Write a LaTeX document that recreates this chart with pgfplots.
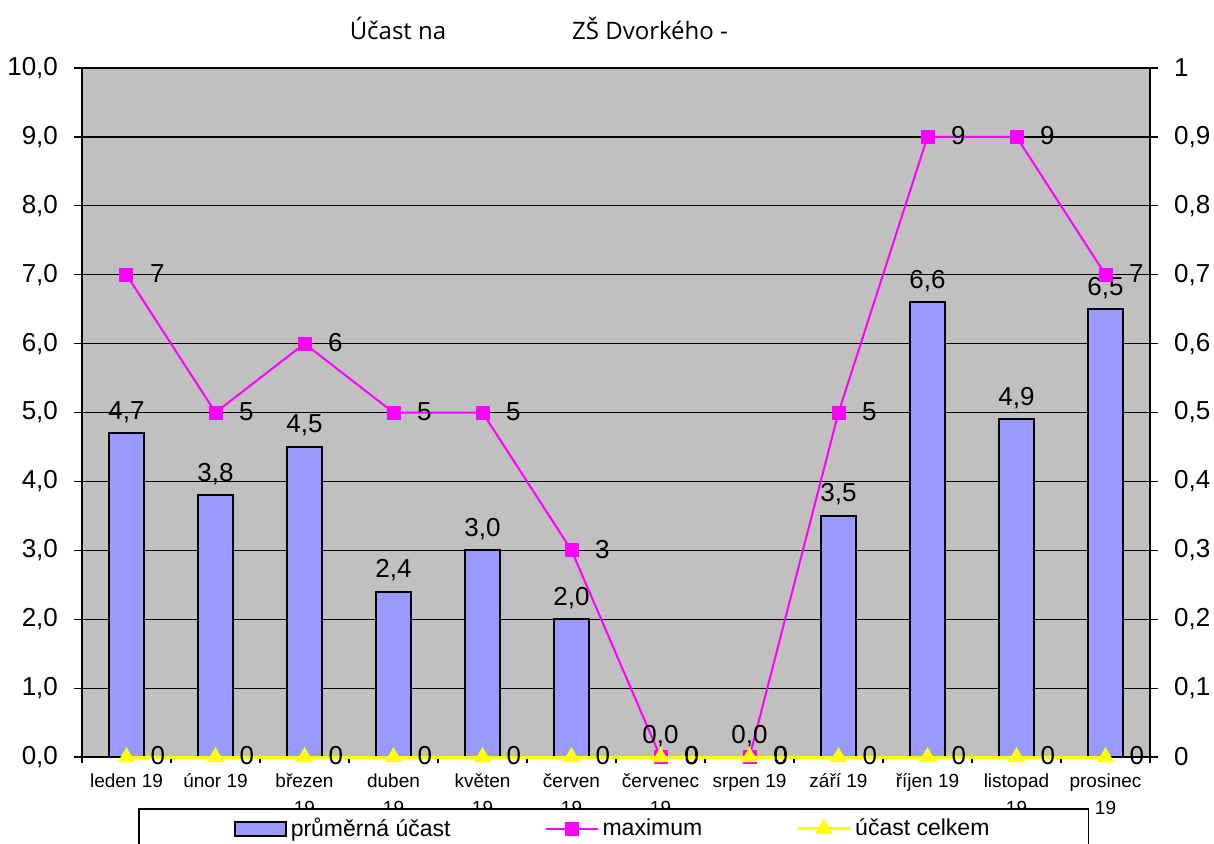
\documentclass[border=0pt]{standalone}
\usepackage{pgfplots}
\pgfplotsset{compat=1.18}
\usepackage{fontspec}
\setmainfont{Liberation Sans}
\newfontfamily\titlefont{Open Sans}
\definecolor{barblue}{RGB}{153,153,255}
\definecolor{bggray}{RGB}{192,192,192}
\definecolor{mag}{RGB}{255,0,255}
\definecolor{yel}{RGB}{255,255,0}
\pgfkeys{/pgf/number format/assume math mode=true}
\newcommand\lblfont{\fontsize{13}{15}\selectfont}
\pgfplotsset{
  widelegend/.style={legend image code/.code={\draw[mark repeat=2, mark phase=2, ##1] plot coordinates {(0pt,0pt) (13pt,0pt) (26pt,0pt)};}},
  barlegend/.style={legend image code/.code={\draw[fill=barblue, draw=black, line width=1pt] (0pt,-3.5pt) rectangle (25.5pt,3.5pt);}},
}
\begin{document}
\begin{tikzpicture}
\useasboundingbox (-41pt,-43pt) rectangle (566pt,378.5pt);
\node[font=\titlefont\fontsize{12}{14}\selectfont] at (158pt,364.5pt) {Účast na};
\node[font=\titlefont\fontsize{12}{14}\selectfont] at (284pt,364.5pt) {ZŠ Dvorkého -};
\begin{axis}[
  at={(0pt,0pt)}, anchor=south west,
  scale only axis, width=534pt, height=344.5pt,
  xmin=-0.5, xmax=11.5, ymin=0, ymax=10,
  axis background/.style={fill=bggray},
  axis line style={black, line width=0.9pt},
  ymajorgrids, grid style={black, line width=0.6pt},
  tick align=outside, xtick pos=bottom, ytick pos=left,
  major tick length=4pt, minor tick length=3pt,
  tick style={black, line width=0.6pt},
  xtick={0,...,11},
  major x tick style={draw=none},
  minor xtick={-0.5,0.5,...,11.5},
  xticklabels={\strut leden 19, \strut únor 19, \strut březen\\19, \strut duben\\19, \strut květen\\19, \strut červen\\19, \strut červenec\\19, \strut srpen 19, \strut září 19, \strut říjen 19, \strut listopad\\19, \strut prosinec\\19},
  xticklabel style={font=\fontsize{9.5}{13.5}\selectfont, align=center, anchor=north, yshift=1.5pt},
  ytick={0,1,...,10},
  yticklabel={\lblfont\pgfmathprintnumber[fixed,fixed zerofill,precision=1,use comma]{\tick}},
  yticklabel style={xshift=-4.5pt},
]
\addplot[ybar, bar width=0.4, fill=barblue, draw=black, line width=1pt,
  nodes near coords={\lblfont\pgfmathprintnumber[fixed,fixed zerofill,precision=1,use comma]{\pgfplotspointmeta}},
  every node near coord/.append style={text=black, yshift=1.5pt}]
coordinates {(0,4.7) (1,3.8) (2,4.5) (3,2.4) (4,3.0) (5,2.0) (6,0) (7,0) (8,3.5) (9,6.6) (10,4.9) (11,6.5)};
\addplot[mag, line width=1pt, mark=square*, mark size=3pt, mark options={solid, fill=mag, draw=mag},
  nodes near coords={\lblfont\pgfmathprintnumber[fixed,precision=0]{\pgfplotspointmeta}},
  every node near coord/.append style={anchor=west, xshift=8pt, yshift=0.5pt, text=black}]
coordinates {(0,7) (1,5) (2,6) (3,5) (4,5) (5,3) (6,0) (7,0) (8,5) (9,9) (10,9) (11,7)};
\end{axis}
\begin{axis}[
  at={(0pt,0pt)}, anchor=south west,
  scale only axis, width=534pt, height=344.5pt,
  xmin=-0.5, xmax=11.5, ymin=0, ymax=1,
  axis x line=none, axis y line*=right,
  axis line style={black, line width=0.9pt},
  tick align=outside, major tick length=4pt,
  tick style={black, line width=0.6pt},
  ytick={0,0.1,0.2,0.3,0.4,0.5,0.6,0.7,0.8,0.9,1},
  yticklabel={\lblfont\pgfmathprintnumber[fixed,precision=1,use comma]{\tick}},
  yticklabel style={xshift=4.5pt},
  clip=false,
  legend columns=3,
  legend style={at={(0.0524,-0.074)}, anchor=north west, draw=black, line width=0.8pt, fill=white,
    font=\fontsize{11.5}{13}\selectfont, inner xsep=47.5pt, inner ysep=2.5pt,
    /tikz/every even column/.append style={column sep=45pt}},
]
\addlegendimage{barlegend}
\addlegendentry{průměrná účast}
\addlegendimage{mag, line width=1pt, mark=square*, mark size=3pt, mark options={solid, fill=mag, draw=mag}, widelegend}
\addlegendentry{maximum}
\addplot[yel, line width=1.5pt, mark=triangle*, mark size=3.5pt, mark options={solid, fill=yel, draw=yel}, widelegend,
  nodes near coords={\lblfont\pgfmathprintnumber[fixed,precision=0]{\pgfplotspointmeta}},
  every node near coord/.append style={anchor=west, xshift=8pt, yshift=0.5pt, text=black}]
coordinates {(0,0) (1,0) (2,0) (3,0) (4,0) (5,0) (6,0) (7,0) (8,0) (9,0) (10,0) (11,0)};
\addlegendentry{účast celkem}
\end{axis}
\end{tikzpicture}
\end{document}
